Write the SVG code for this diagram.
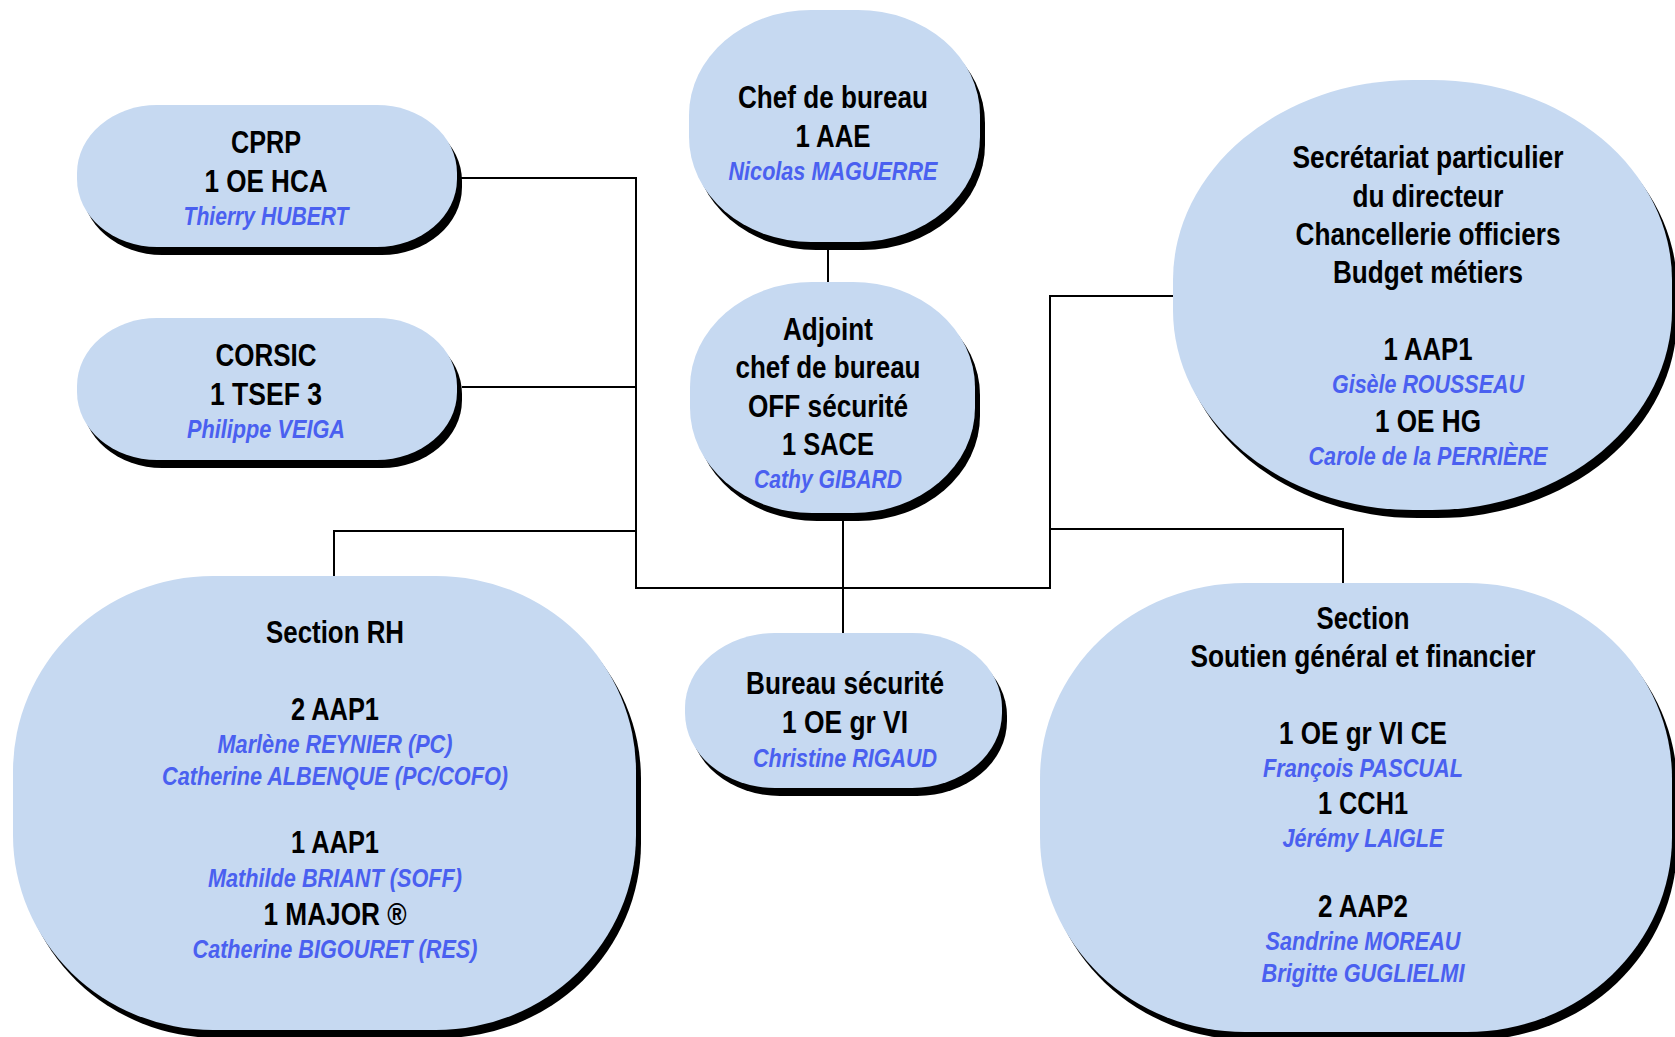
<svg xmlns="http://www.w3.org/2000/svg" width="1675" height="1037" viewBox="0 0 1675 1037">
<style>
.sh{fill:#000}
.bx{fill:#C6D9F1}
.t{font-family:"Liberation Sans Narrow","Liberation Sans",Arial,sans-serif;font-weight:bold;font-size:31px;fill:#000;text-anchor:middle}
.n{font-family:"Liberation Sans Narrow","Liberation Sans",Arial,sans-serif;font-weight:bold;font-style:italic;font-size:26px;fill:#4A60F0;text-anchor:middle}
.c{fill:none;stroke:#000;stroke-width:2}
</style>
<rect width="1675" height="1037" fill="#fff"/>
<g id="connectors">
<polyline class="c" points="460,178 636,178 636,588 1050,588 1050,296 1175,296"/>
<polyline class="c" points="462,387 636,387"/>
<polyline class="c" points="334,578 334,531 636,531"/>
<polyline class="c" points="1050,529 1343,529 1343,585"/>
<line class="c" x1="828" y1="248" x2="828" y2="284"/>
<line class="c" x1="843" y1="518" x2="843" y2="635"/>
</g>
<g id="cprp">
<rect class="sh" x="82" y="113" width="380" height="142" rx="80" ry="68"/>
<rect class="bx" x="77" y="105" width="380" height="142" rx="80" ry="68"/>
<text class="t" x="266" y="153" textLength="70" lengthAdjust="spacingAndGlyphs">CPRP</text>
<text class="t" x="266" y="192" textLength="123" lengthAdjust="spacingAndGlyphs">1 OE HCA</text>
<text class="n" x="266" y="225" textLength="165" lengthAdjust="spacingAndGlyphs">Thierry HUBERT</text>
</g>
<g id="corsic">
<rect class="sh" x="82" y="326" width="380" height="142" rx="80" ry="68"/>
<rect class="bx" x="77" y="318" width="380" height="142" rx="80" ry="68"/>
<text class="t" x="266" y="366" textLength="101" lengthAdjust="spacingAndGlyphs">CORSIC</text>
<text class="t" x="266" y="405" textLength="112" lengthAdjust="spacingAndGlyphs">1 TSEF 3</text>
<text class="n" x="266" y="438" textLength="158" lengthAdjust="spacingAndGlyphs">Philippe VEIGA</text>
</g>
<g id="chef">
<rect class="sh" x="694" y="18" width="291" height="232" rx="122" ry="105"/>
<rect class="bx" x="689" y="10" width="291" height="232" rx="122" ry="105"/>
<text class="t" x="833" y="108" textLength="190" lengthAdjust="spacingAndGlyphs">Chef de bureau</text>
<text class="t" x="833" y="147" textLength="75" lengthAdjust="spacingAndGlyphs">1 AAE</text>
<text class="n" x="833" y="180" textLength="209" lengthAdjust="spacingAndGlyphs">Nicolas MAGUERRE</text>
</g>
<g id="adjoint">
<rect class="sh" x="695" y="290" width="285" height="231" rx="122" ry="105"/>
<rect class="bx" x="690" y="282" width="285" height="231" rx="122" ry="105"/>
<text class="t" x="828" y="340" textLength="90" lengthAdjust="spacingAndGlyphs">Adjoint</text>
<text class="t" x="828" y="378" textLength="185" lengthAdjust="spacingAndGlyphs">chef de bureau</text>
<text class="t" x="828" y="417" textLength="160" lengthAdjust="spacingAndGlyphs">OFF sécurité</text>
<text class="t" x="828" y="455" textLength="92" lengthAdjust="spacingAndGlyphs">1 SACE</text>
<text class="n" x="828" y="488" textLength="148" lengthAdjust="spacingAndGlyphs">Cathy GIBARD</text>
</g>
<g id="secretariat">
<rect class="sh" x="1178" y="88" width="499" height="430" rx="240" ry="200"/>
<rect class="bx" x="1173" y="80" width="499" height="430" rx="240" ry="200"/>
<text class="t" x="1428" y="168" textLength="271" lengthAdjust="spacingAndGlyphs">Secrétariat particulier</text>
<text class="t" x="1428" y="207" textLength="151" lengthAdjust="spacingAndGlyphs">du directeur</text>
<text class="t" x="1428" y="245" textLength="265" lengthAdjust="spacingAndGlyphs">Chancellerie officiers</text>
<text class="t" x="1428" y="283" textLength="190" lengthAdjust="spacingAndGlyphs">Budget métiers</text>
<text class="t" x="1428" y="360" textLength="89" lengthAdjust="spacingAndGlyphs">1 AAP1</text>
<text class="n" x="1428" y="393" textLength="192" lengthAdjust="spacingAndGlyphs">Gisèle ROUSSEAU</text>
<text class="t" x="1428" y="432" textLength="106" lengthAdjust="spacingAndGlyphs">1 OE HG</text>
<text class="n" x="1428" y="465" textLength="239" lengthAdjust="spacingAndGlyphs">Carole de la PERRIÈRE</text>
</g>
<g id="section-rh">
<rect class="sh" x="18" y="584" width="623" height="454" rx="200" ry="195"/>
<rect class="bx" x="13" y="576" width="623" height="454" rx="200" ry="195"/>
<text class="t" x="335" y="643" textLength="138" lengthAdjust="spacingAndGlyphs">Section RH</text>
<text class="t" x="335" y="720" textLength="88" lengthAdjust="spacingAndGlyphs">2 AAP1</text>
<text class="n" x="335" y="753" textLength="235" lengthAdjust="spacingAndGlyphs">Marlène REYNIER (PC)</text>
<text class="n" x="335" y="785" textLength="346" lengthAdjust="spacingAndGlyphs">Catherine ALBENQUE (PC/COFO)</text>
<text class="t" x="335" y="853" textLength="88" lengthAdjust="spacingAndGlyphs">1 AAP1</text>
<text class="n" x="335" y="887" textLength="254" lengthAdjust="spacingAndGlyphs">Mathilde BRIANT (SOFF)</text>
<text class="t" x="335" y="925" textLength="143" lengthAdjust="spacingAndGlyphs">1 MAJOR ®</text>
<text class="n" x="335" y="958" textLength="285" lengthAdjust="spacingAndGlyphs">Catherine BIGOURET (RES)</text>
</g>
<g id="bureau-securite">
<rect class="sh" x="690" y="641" width="317" height="155" rx="90" ry="75"/>
<rect class="bx" x="685" y="633" width="317" height="155" rx="90" ry="75"/>
<text class="t" x="845" y="694" textLength="198" lengthAdjust="spacingAndGlyphs">Bureau sécurité</text>
<text class="t" x="845" y="733" textLength="126" lengthAdjust="spacingAndGlyphs">1 OE gr VI</text>
<text class="n" x="845" y="767" textLength="184" lengthAdjust="spacingAndGlyphs">Christine RIGAUD</text>
</g>
<g id="section-soutien">
<rect class="sh" x="1045" y="591" width="632" height="449" rx="205" ry="195"/>
<rect class="bx" x="1040" y="583" width="632" height="449" rx="205" ry="195"/>
<text class="t" x="1363" y="629" textLength="93" lengthAdjust="spacingAndGlyphs">Section</text>
<text class="t" x="1363" y="667" textLength="345" lengthAdjust="spacingAndGlyphs">Soutien général et financier</text>
<text class="t" x="1363" y="744" textLength="168" lengthAdjust="spacingAndGlyphs">1 OE gr VI CE</text>
<text class="n" x="1363" y="777" textLength="200" lengthAdjust="spacingAndGlyphs">François PASCUAL</text>
<text class="t" x="1363" y="814" textLength="90" lengthAdjust="spacingAndGlyphs">1 CCH1</text>
<text class="n" x="1363" y="847" textLength="161" lengthAdjust="spacingAndGlyphs">Jérémy LAIGLE</text>
<text class="t" x="1363" y="917" textLength="90" lengthAdjust="spacingAndGlyphs">2 AAP2</text>
<text class="n" x="1363" y="950" textLength="195" lengthAdjust="spacingAndGlyphs">Sandrine MOREAU</text>
<text class="n" x="1363" y="982" textLength="203" lengthAdjust="spacingAndGlyphs">Brigitte GUGLIELMI</text>
</g>
</svg>
